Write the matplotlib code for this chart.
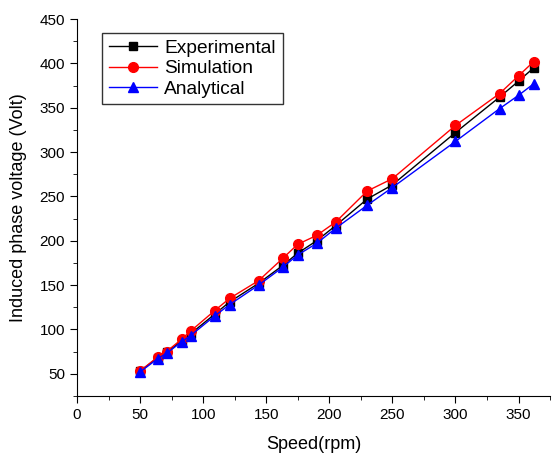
import matplotlib.pyplot as plt
from matplotlib.ticker import MultipleLocator

plt.rcParams['font.family'] = ['Liberation Sans', 'DejaVu Sans']

speed = [50, 64, 71, 83, 90, 109, 121, 144, 163, 175, 190, 205, 230, 250, 300, 335, 350, 362]
experimental = [53, 68, 74, 87, 95, 117, 131, 152, 172, 186, 200, 217, 247, 263, 322, 362, 380, 395]
simulation = [53, 69, 75, 89, 98, 121, 135, 155, 180, 196, 206, 221, 256, 270, 330, 366, 386, 402]
analytical = [52, 67, 73, 86, 93, 115, 128, 150, 170, 184, 197, 214, 240, 260, 312, 349, 364, 377]

fig = plt.figure(figsize=(5.52, 4.54), dpi=100)
ax = fig.add_axes([0.1395, 0.128, 0.857, 0.83])

ax.plot(speed, experimental, color='black', marker='s', markersize=6, lw=1, label='Experimental')
ax.plot(speed, simulation, color='red', marker='o', markersize=7, lw=1, label='Simulation')
ax.plot(speed, analytical, color='blue', marker='^', markersize=7, lw=1, label='Analytical')

ax.set_xlim(0, 375)
ax.set_ylim(25, 450)
ax.xaxis.set_major_locator(MultipleLocator(50))
ax.xaxis.set_minor_locator(MultipleLocator(25))
ax.yaxis.set_minor_locator(MultipleLocator(25))
ax.set_yticks(range(50, 451, 50))
ax.tick_params(which='major', direction='out', length=5, labelsize=11)
ax.tick_params(which='minor', direction='out', length=3)
ax.spines['top'].set_visible(False)
ax.spines['right'].set_visible(False)

ax.set_xlabel('Speed(rpm)', fontsize=13, labelpad=10)
ax.set_ylabel('Induced phase voltage (Volt)', fontsize=13, labelpad=9)

leg = ax.legend(loc='upper left', bbox_to_anchor=(0.053, 0.963), borderaxespad=0,
                fontsize=13.8, frameon=True, fancybox=False, edgecolor='black',
                handlelength=2.5, borderpad=0.35, labelspacing=0.15, handletextpad=0.4)
leg.get_frame().set_linewidth(1)

fig.savefig('out.png', dpi=100)
